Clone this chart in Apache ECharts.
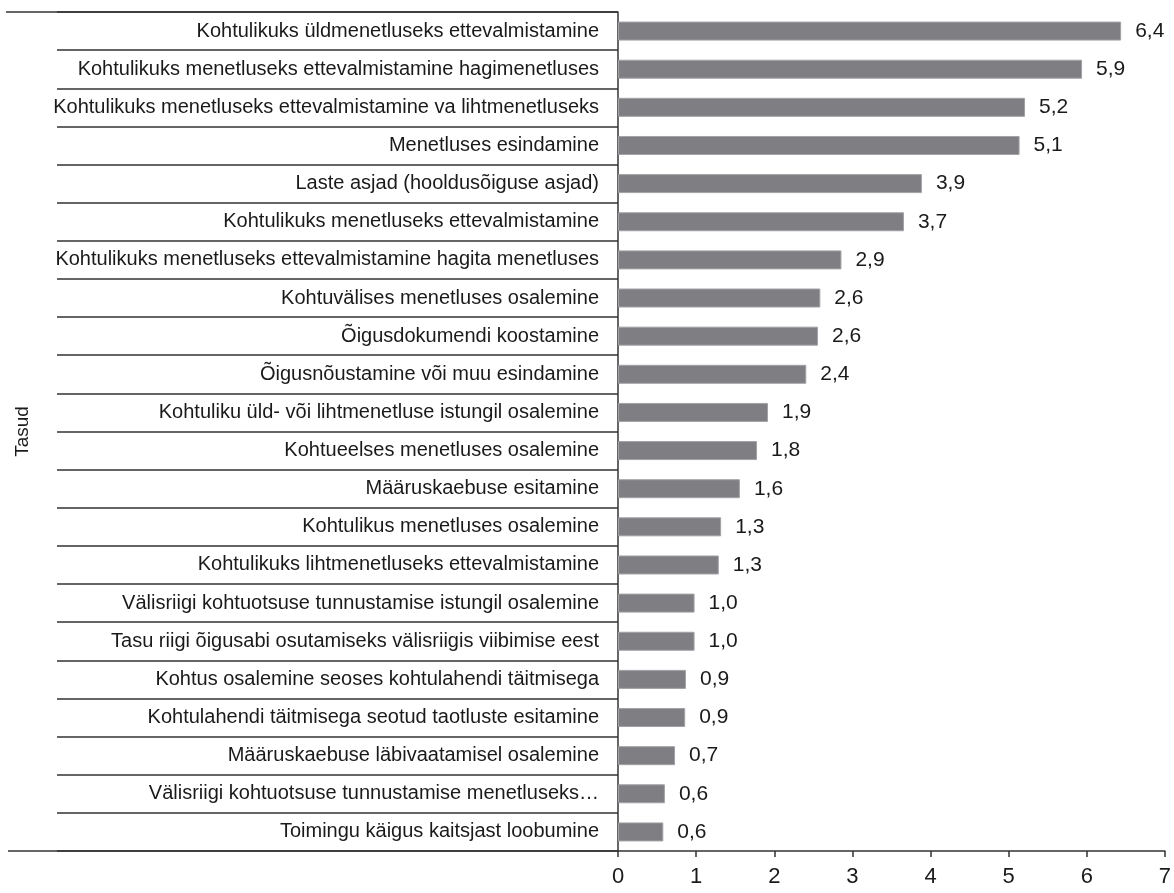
<!DOCTYPE html>
<html>
<head>
<meta charset="utf-8">
<style>html,body{margin:0;padding:0;background:#fff}#c{width:1174px;height:893px}</style>
<script src="https://cdn.jsdelivr.net/npm/echarts@6/dist/echarts.min.js"></script>
</head>
<body>
<div id="c"></div>
<script>
const categories = [
  'Kohtulikuks üldmenetluseks ettevalmistamine',
  'Kohtulikuks menetluseks ettevalmistamine hagimenetluses',
  'Kohtulikuks menetluseks ettevalmistamine va lihtmenetluseks',
  'Menetluses esindamine',
  'Laste asjad (hooldusõiguse asjad)',
  'Kohtulikuks menetluseks ettevalmistamine',
  'Kohtulikuks menetluseks ettevalmistamine hagita menetluses',
  'Kohtuvälises menetluses osalemine',
  'Õigusdokumendi koostamine',
  'Õigusnõustamine või muu esindamine',
  'Kohtuliku üld- või lihtmenetluse istungil osalemine',
  'Kohtueelses menetluses osalemine',
  'Määruskaebuse esitamine',
  'Kohtulikus menetluses osalemine',
  'Kohtulikuks lihtmenetluseks ettevalmistamine',
  'Välisriigi kohtuotsuse tunnustamise istungil osalemine',
  'Tasu riigi õigusabi osutamiseks välisriigis viibimise eest',
  'Kohtus osalemine seoses kohtulahendi täitmisega',
  'Kohtulahendi täitmisega seotud taotluste esitamine',
  'Määruskaebuse läbivaatamisel osalemine',
  'Välisriigi kohtuotsuse tunnustamise menetluseks…',
  'Toimingu käigus kaitsjast loobumine'
];
const values = [6.44, 5.94, 5.21, 5.14, 3.89, 3.66, 2.86, 2.59, 2.56, 2.41, 1.92, 1.78, 1.56, 1.32, 1.29, 0.98, 0.98, 0.87, 0.86, 0.73, 0.60, 0.58];
const xTicks = [0, 1, 2, 3, 4, 5, 6, 7];
const axisName = 'Tasud';

const G = {left: 618, right: 6, top: 12, bottom: 42};
const W = 1174, H = 893;
const regular = '"Liberation Sans", Arial, sans-serif';
const lineCol = '#333';

const chart = echarts.init(document.getElementById('c'), null, {renderer: 'canvas'});
chart.setOption({
  animation: false,
  backgroundColor: '#fff',
  grid: {left: G.left, right: G.right, top: G.top, bottom: G.bottom, containLabel: false},
  xAxis: {
    type: 'value', min: xTicks[0], max: xTicks[xTicks.length - 1], interval: 1,
    splitLine: {show: false},
    axisLine: {show: true, lineStyle: {color: lineCol, width: 1.5}},
    axisTick: {show: true, length: 6, lineStyle: {color: lineCol, width: 1.5}},
    axisLabel: {margin: 15, color: '#1a1a1a', fontFamily: regular, fontSize: 22}
  },
  yAxis: {
    type: 'category', data: categories, inverse: true,
    name: axisName, nameLocation: 'middle', nameRotate: 90, nameGap: 586,
    nameTextStyle: {color: '#1a1a1a', fontFamily: regular, fontSize: 19},
    axisLine: {show: true, lineStyle: {color: lineCol, width: 1.5}},
    axisTick: {show: true, length: 561, interval: 0, lineStyle: {color: lineCol, width: 1.5}},
    axisLabel: {margin: 19, interval: 0, color: '#1a1a1a', fontFamily: regular, fontSize: 20}
  },
  graphic: [
    {type: 'line', shape: {x1: 6, y1: G.top, x2: G.left, y2: G.top}, style: {stroke: lineCol, lineWidth: 1.5}},
    {type: 'line', shape: {x1: 8, y1: H - G.bottom, x2: G.left, y2: H - G.bottom}, style: {stroke: lineCol, lineWidth: 1.5}}
  ],
  series: [{
    type: 'bar', data: values, barWidth: 19,
    itemStyle: {color: '#7f7e83', borderColor: '#a2a2a6', borderWidth: 1},
    label: {
      show: true, position: 'right', distance: 14,
      color: '#1a1a1a', fontFamily: regular, fontSize: 21,
      formatter: p => p.value.toFixed(1).replace('.', ',')
    }
  }]
});
</script>
</body>
</html>
